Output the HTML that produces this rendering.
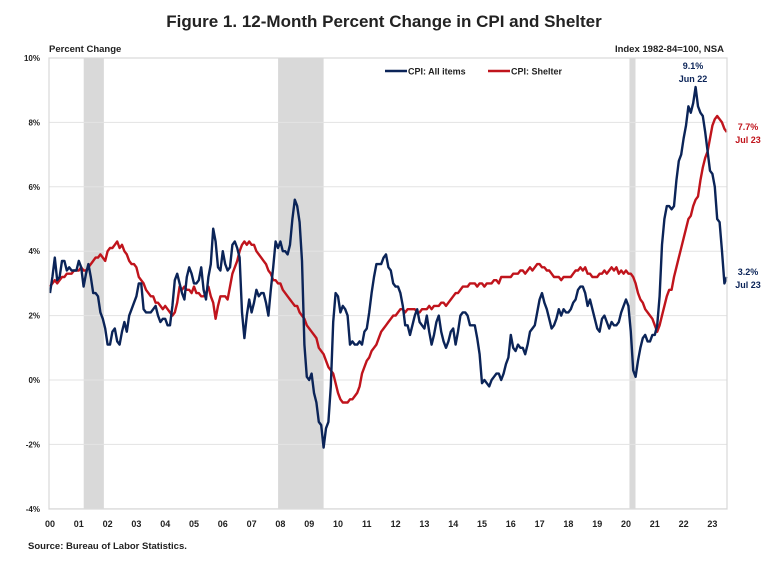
<!DOCTYPE html>
<html><head><meta charset="utf-8"><style>
body{margin:0;background:#fff;}
svg text{font-family:"Liberation Sans",sans-serif;font-weight:bold;fill:#222;}
</style></head><body>
<svg width="768" height="576" viewBox="0 0 768 576">
<text x="384" y="27" text-anchor="middle" font-size="17">Figure 1. 12-Month Percent Change in CPI and Shelter</text>
<text x="49" y="52" font-size="9.5">Percent Change</text>
<text x="724" y="52" font-size="9.5" text-anchor="end">Index 1982-84=100, NSA</text>
<g id="rec"></g><g id="grid"></g><g id="series"></g>
<rect x="49" y="58" width="678" height="451" fill="none" stroke="#d8d8d8" stroke-width="1.2"/>
<g>
<line x1="385" y1="71" x2="407" y2="71" stroke="#0b2458" stroke-width="2.5"/>
<text x="408" y="74.5" font-size="9">CPI: All items</text>
<line x1="488" y1="71" x2="510" y2="71" stroke="#c0141c" stroke-width="2.5"/>
<text x="511" y="74.5" font-size="9">CPI: Shelter</text>
</g>
<text x="693" y="69" font-size="9" text-anchor="middle" style="fill:#0b2458">9.1%</text>
<text x="693" y="82" font-size="9" text-anchor="middle" style="fill:#0b2458">Jun 22</text>
<text x="748" y="130" font-size="9" text-anchor="middle" style="fill:#c0141c">7.7%</text>
<text x="748" y="143" font-size="9" text-anchor="middle" style="fill:#c0141c">Jul 23</text>
<text x="748" y="275" font-size="9" text-anchor="middle" style="fill:#0b2458">3.2%</text>
<text x="748" y="288" font-size="9" text-anchor="middle" style="fill:#0b2458">Jul 23</text>
<text x="28" y="549" font-size="9.5">Source: Bureau of Labor Statistics.</text>
</svg>
<script>
const yTicks=[10,8,6,4,2,0,-2,-4];
const yearLabels=["00","01","02","03","04","05","06","07","08","09","10","11","12","13","14","15","16","17","18","19","20","21","22","23"];
const recessions=[[2001.17,2001.87],[2007.92,2009.5],[2020.12,2020.33]];
const cpi=[2.7,3.2,3.8,3.1,3.2,3.7,3.7,3.4,3.5,3.4,3.4,3.4,
3.7,3.5,2.9,3.3,3.6,3.2,2.7,2.7,2.6,2.1,1.9,1.6,
1.1,1.1,1.5,1.6,1.2,1.1,1.5,1.8,1.5,2.0,2.2,2.4,
2.6,3.0,3.0,2.2,2.1,2.1,2.1,2.2,2.3,2.0,1.8,1.9,
1.9,1.7,1.7,2.3,3.1,3.3,3.0,2.7,2.5,3.2,3.5,3.3,
3.0,3.0,3.1,3.5,2.8,2.5,3.2,3.6,4.7,4.3,3.5,3.4,
4.0,3.6,3.4,3.5,4.2,4.3,4.1,3.8,2.1,1.3,2.0,2.5,
2.1,2.4,2.8,2.6,2.7,2.7,2.4,2.0,2.8,3.5,4.3,4.1,
4.3,4.0,4.0,3.9,4.2,5.0,5.6,5.4,4.9,3.7,1.1,0.1,
0.0,0.2,-0.4,-0.7,-1.3,-1.4,-2.1,-1.5,-1.3,-0.2,1.8,2.7,
2.6,2.1,2.3,2.2,2.0,1.1,1.2,1.1,1.1,1.2,1.1,1.5,
1.6,2.1,2.7,3.2,3.6,3.6,3.6,3.8,3.9,3.5,3.4,3.0,
2.9,2.9,2.7,2.3,1.7,1.7,1.4,1.7,2.0,2.2,1.8,1.7,
1.6,2.0,1.5,1.1,1.4,1.8,2.0,1.5,1.2,1.0,1.2,1.5,
1.6,1.1,1.5,2.0,2.1,2.1,2.0,1.7,1.7,1.7,1.3,0.8,
-0.1,0.0,-0.1,-0.2,0.0,0.1,0.2,0.2,0.0,0.2,0.5,0.7,
1.4,1.0,0.9,1.1,1.0,1.0,0.8,1.1,1.5,1.6,1.7,2.1,
2.5,2.7,2.4,2.2,1.9,1.6,1.7,1.9,2.2,2.0,2.2,2.1,
2.1,2.2,2.4,2.5,2.8,2.9,2.9,2.7,2.3,2.5,2.2,1.9,
1.6,1.5,1.9,2.0,1.8,1.6,1.8,1.7,1.7,1.8,2.1,2.3,
2.5,2.3,1.5,0.3,0.1,0.6,1.0,1.3,1.4,1.2,1.2,1.4,
1.4,1.7,2.6,4.2,5.0,5.4,5.4,5.3,5.4,6.2,6.8,7.0,
7.5,7.9,8.5,8.3,8.6,9.1,8.5,8.3,8.2,7.7,7.1,6.5,
6.4,6.0,5.0,4.9,4.0,3.0,3.2];
const shelter=[2.9,3.0,3.1,3.0,3.1,3.2,3.2,3.3,3.3,3.3,3.4,3.4,
3.4,3.5,3.4,3.4,3.5,3.6,3.7,3.8,3.8,3.9,3.8,3.7,
4.0,4.1,4.1,4.2,4.3,4.1,4.2,4.0,3.9,3.7,3.6,3.6,
3.5,3.2,3.1,3.0,2.8,2.7,2.6,2.6,2.4,2.4,2.3,2.2,
2.3,2.2,2.1,2.0,2.1,2.4,2.9,2.8,2.9,2.8,2.8,2.7,
2.9,2.7,2.7,2.6,2.6,2.7,2.9,2.6,2.4,1.9,2.3,2.6,
2.6,2.6,2.5,2.9,3.3,3.5,3.7,4.0,4.2,4.3,4.2,4.3,
4.2,4.2,4.0,3.9,3.8,3.7,3.6,3.4,3.3,3.1,3.1,3.0,
3.0,2.8,2.7,2.6,2.5,2.4,2.3,2.3,2.1,2.0,1.9,1.7,
1.6,1.5,1.4,1.3,1.0,0.9,0.8,0.6,0.4,0.3,0.2,-0.1,
-0.4,-0.6,-0.7,-0.7,-0.7,-0.6,-0.6,-0.5,-0.4,-0.2,0.2,0.4,
0.6,0.7,0.9,1.0,1.1,1.3,1.5,1.6,1.7,1.8,1.9,2.0,
2.0,2.1,2.2,2.2,2.1,2.2,2.2,2.2,2.2,2.1,2.1,2.2,
2.2,2.2,2.3,2.2,2.3,2.3,2.3,2.4,2.4,2.3,2.4,2.5,
2.6,2.7,2.7,2.8,2.9,2.9,2.9,3.0,3.0,3.0,2.9,3.0,
3.0,2.9,3.0,3.0,3.0,3.1,3.1,3.0,3.2,3.2,3.2,3.2,
3.2,3.3,3.3,3.3,3.4,3.4,3.3,3.4,3.5,3.4,3.5,3.6,
3.6,3.5,3.5,3.4,3.4,3.3,3.2,3.2,3.2,3.1,3.2,3.2,
3.2,3.2,3.3,3.4,3.4,3.5,3.4,3.5,3.3,3.3,3.2,3.2,
3.2,3.3,3.3,3.4,3.3,3.4,3.5,3.4,3.5,3.3,3.4,3.3,
3.4,3.3,3.3,3.2,3.0,2.7,2.5,2.4,2.2,2.1,2.0,1.9,
1.7,1.5,1.7,2.0,2.3,2.6,2.8,2.8,3.2,3.5,3.8,4.1,
4.4,4.7,5.0,5.1,5.4,5.6,5.7,6.2,6.6,6.9,7.1,7.5,
7.9,8.1,8.2,8.1,8.0,7.8,7.7];
const NS="http://www.w3.org/2000/svg";
const x=t=>50+28.8*(t-2000);
const y=v=>380-32.2*v;
const grid=document.getElementById('grid'),rec=document.getElementById('rec'),ser=document.getElementById('series');
function mk(tag,attrs,parent){const e=document.createElementNS(NS,tag);for(const k in attrs)e.setAttribute(k,attrs[k]);parent.appendChild(e);return e;}
recessions.forEach(r=>{
const e=mk('rect',{x:x(r[0]),y:58,width:x(r[1])-x(r[0]),height:451,fill:'#d9d9d9'},rec);


});
yTicks.forEach(v=>{
const l=mk('line',{x1:49,x2:727,y1:y(v),y2:y(v),stroke:'#e3e3e3','stroke-width':1},grid);


const t=mk('text',{x:40,y:y(v)+3,'text-anchor':'end','font-size':8},grid);
t.textContent=v+'%';


});
yearLabels.forEach((s,i)=>{
const t=mk('text',{x:x(2000+i),y:527,'text-anchor':'middle','font-size':9},grid);
t.textContent=s;


});
function line(arr,color,name){
const pts=arr.map((v,i)=>x(2000+i/12).toFixed(1)+','+y(v).toFixed(1)).join(' ');
const p=mk('polyline',{points:pts,fill:'none',stroke:color,'stroke-width':2.4,'stroke-linejoin':'round'},ser);


}
line(shelter,'#c0141c','shelter-line');
line(cpi,'#0b2458','cpi-all-items-line');
</script>
</body></html>
